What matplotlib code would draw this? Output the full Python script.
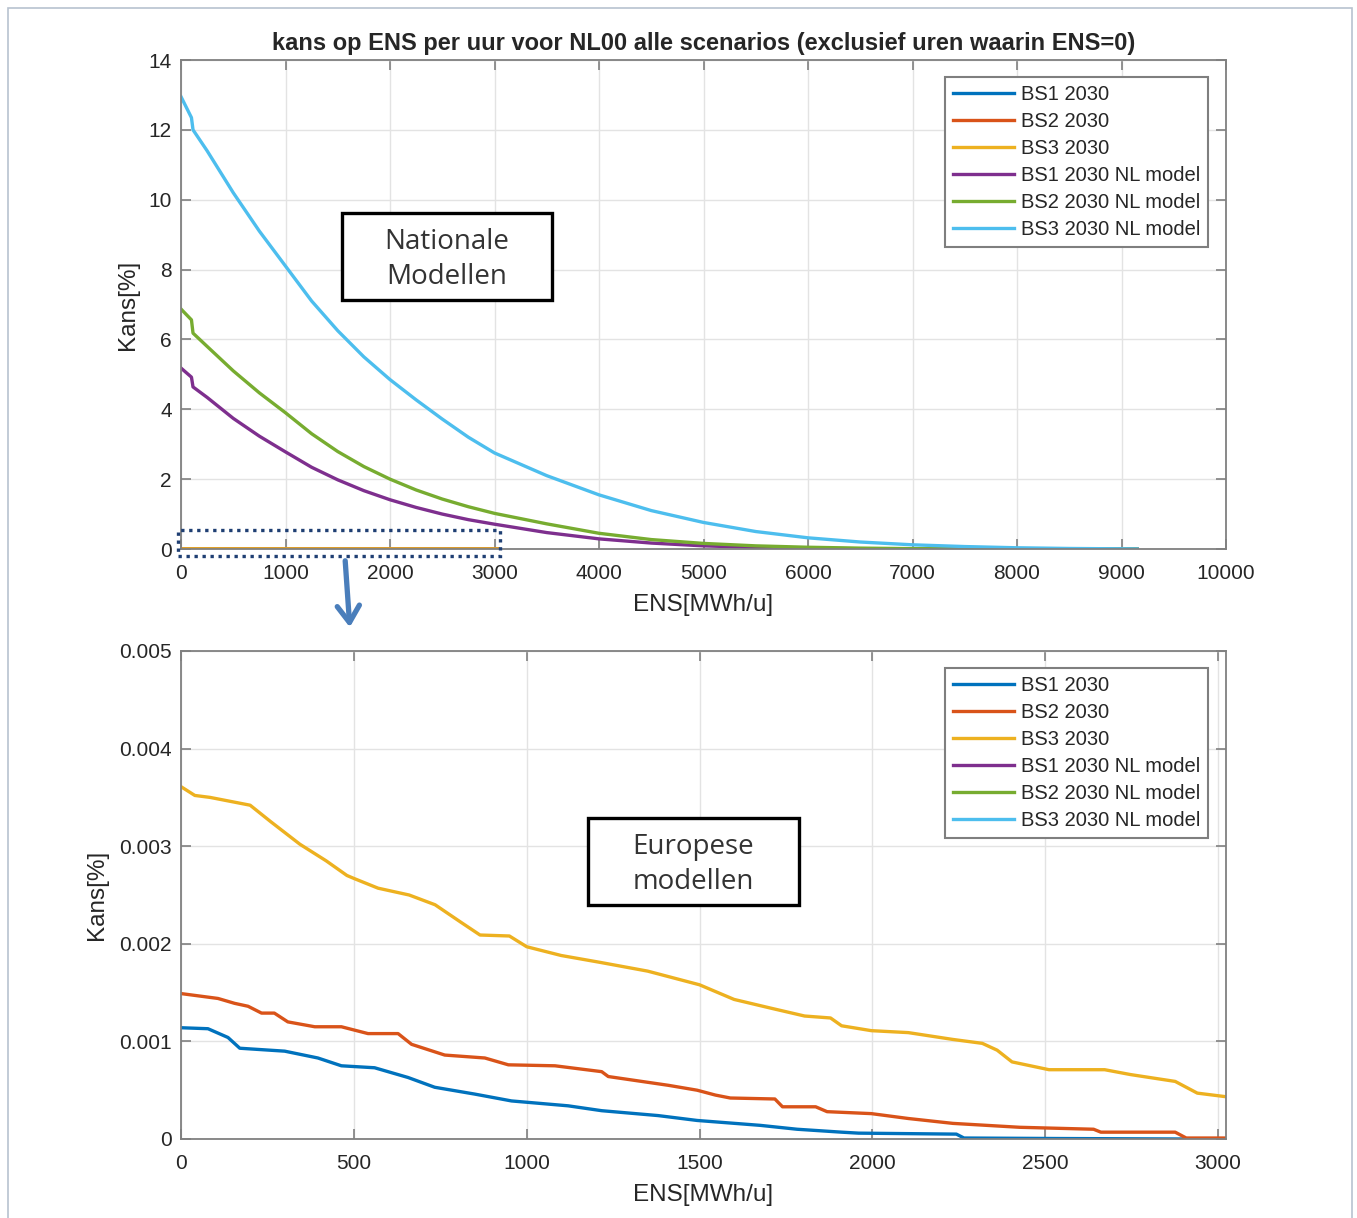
import matplotlib
matplotlib.use("Agg")
import matplotlib.pyplot as plt
from matplotlib.patches import Rectangle, FancyArrowPatch

# European models: hourly probability of ENS [%] against ENS [MWh/u]
ens_bs1 = [0, 78, 136, 170, 300, 396, 464, 560, 657, 734, 850, 956, 1120, 1217, 1380,
           1493, 1675, 1782, 1911, 1960, 2243, 2265, 2533, 2900, 3030]
kans_bs1 = [0.00114, 0.00113, 0.00104, 0.00093, 0.00090, 0.00083, 0.00075, 0.00073,
            0.00063, 0.00053, 0.00046, 0.00039, 0.00034, 0.00029, 0.00024, 0.00019,
            0.00014, 0.00010, 0.00007, 0.00006, 0.00005, 0.00001, 0.000005, 0.0, 0.0]

ens_bs2 = [0, 107, 155, 194, 233, 270, 309, 387, 464, 541, 628, 667, 763, 879, 947,
           1082, 1217, 1236, 1410, 1493, 1546, 1589, 1718, 1740, 1836, 1869, 1997,
           2104, 2233, 2426, 2640, 2661, 2876, 2908, 3030]
kans_bs2 = [0.00149, 0.00144, 0.00139, 0.00136, 0.00129, 0.00129, 0.00120, 0.00115,
            0.00115, 0.00108, 0.00108, 0.00097, 0.00086, 0.00083, 0.00076, 0.00075,
            0.00069, 0.00064, 0.00055, 0.00050, 0.00045, 0.00042, 0.00041, 0.00033,
            0.00033, 0.00028, 0.00026, 0.00021, 0.00016, 0.00012, 0.00010, 0.00007,
            0.00007, 0.00001, 0.00001]

ens_bs3 = [0, 40, 84, 200, 260, 344, 420, 480, 500, 570, 660, 735, 810, 865, 950,
           1000, 1100, 1212, 1350, 1500, 1600, 1707, 1804, 1879, 1911, 1997, 2104,
           2233, 2318, 2361, 2404, 2511, 2672, 2747, 2876, 2940, 3030]
kans_bs3 = [0.00361, 0.00352, 0.00350, 0.00342, 0.00325, 0.00302, 0.00285, 0.00270,
            0.00267, 0.00257, 0.00250, 0.00240, 0.00222, 0.00209, 0.00208, 0.00197,
            0.00188, 0.00181, 0.00172, 0.00158, 0.00143, 0.00134, 0.00126, 0.00124,
            0.00116, 0.00111, 0.00109, 0.00102, 0.00098, 0.00091, 0.00079, 0.00071,
            0.00071, 0.00066, 0.00059, 0.00047, 0.00043]

# national models (NL model)
ens_nl = [0, 100, 115, 250, 500, 750, 1000, 1250, 1500, 1750, 2000, 2250, 2500, 2750,
          3000, 3500, 4000, 4500, 5000, 5500, 6000, 6500, 7000, 7500, 8000, 8500,
          9000, 9150]
kans_bs1_nl = [5.18, 4.92, 4.64, 4.34, 3.74, 3.23, 2.78, 2.34, 1.98, 1.67, 1.41, 1.19,
               1.00, 0.84, 0.71, 0.47, 0.29, 0.17, 0.09, 0.045, 0.02, 0.008, 0.002,
               0.0, 0.0, 0.0, 0.0, 0.0]
kans_bs2_nl = [6.87, 6.56, 6.18, 5.80, 5.10, 4.47, 3.90, 3.30, 2.79, 2.36, 2.00, 1.69,
               1.43, 1.21, 1.02, 0.72, 0.45, 0.27, 0.16, 0.09, 0.05, 0.025, 0.01,
               0.003, 0.0, 0.0, 0.0, 0.0]
kans_bs3_nl = [12.95, 12.35, 12.00, 11.40, 10.20, 9.10, 8.10, 7.10, 6.25, 5.50, 4.85,
               4.27, 3.72, 3.20, 2.75, 2.10, 1.55, 1.10, 0.76, 0.50, 0.32, 0.20, 0.12,
               0.07, 0.035, 0.015, 0.005, 0.0]

labels = ["BS1 2030", "BS2 2030", "BS3 2030",
          "BS1 2030 NL model", "BS2 2030 NL model", "BS3 2030 NL model"]
colors = ["#0072BD", "#D95319", "#EDB120", "#7E2F8E", "#77AC30", "#4DBEEE"]

plt.rcParams["font.family"] = ["Liberation Sans", "DejaVu Sans"]
TXT = "#262626"
SPINE = "#808080"

W, H = 1357, 1218
fig = plt.figure(figsize=(W / 100, H / 100), dpi=100)


def px_box(x0, y0, x1, y1):
    # pixel box (top-left origin) -> figure fraction rect
    return [x0 / W, 1 - y1 / H, (x1 - x0) / W, (y1 - y0) / H]


ax1 = fig.add_axes(px_box(181, 60, 1226, 549))
ax2 = fig.add_axes(px_box(181, 651, 1226, 1139))

series = [(ens_bs1, kans_bs1), (ens_bs2, kans_bs2), (ens_bs3, kans_bs3),
          (ens_nl, kans_bs1_nl), (ens_nl, kans_bs2_nl), (ens_nl, kans_bs3_nl)]

for ax in (ax1, ax2):
    for (x, y), c, lab in zip(series, colors, labels):
        ax.plot(x, y, color=c, lw=2.4, label=lab, solid_joinstyle="round")
    ax.grid(True, color="#e3e3e3", lw=1.0)
    ax.set_axisbelow(True)
    for s in ax.spines.values():
        s.set_color(SPINE)
        s.set_linewidth(1.3)
    ax.tick_params(direction="in", length=7, width=1.2, color=SPINE,
                   top=True, right=True, labelsize=15, labelcolor=TXT)
    ax.tick_params(axis="x", pad=11)
    ax.tick_params(axis="y", pad=6.5)
    ax.set_xlabel("ENS[MWh/u]", fontsize=17.5, color=TXT, labelpad=8)
    ax.set_ylabel("Kans[%]", fontsize=17.5, color=TXT)
    leg = ax.legend(loc="upper right", bbox_to_anchor=(1 - 18 / 1045, 1 - 17 / 489),
                    borderaxespad=0, fontsize=14.5, handlelength=3.0, handletextpad=0.35,
                    labelspacing=0.40, borderpad=0.4, fancybox=False, framealpha=1)
    leg.get_frame().set_edgecolor("#7f7f7f")
    leg.get_frame().set_linewidth(1.5)
    for t in leg.get_texts():
        t.set_color(TXT)

ax1.set_xlim(0, 10000)
ax1.set_ylim(0, 14)
ax1.set_xticks(range(0, 10001, 1000))
ax1.set_yticks(range(0, 15, 2))
ax1.set_title("kans op ENS per uur voor NL00 alle scenarios (exclusief uren waarin ENS=0)",
              fontsize=17, fontweight="bold", color=TXT, pad=7)
ax1.yaxis.set_label_coords(-0.04, 0.5)

ax2.set_xlim(0, 3023)
ax2.set_ylim(0, 0.005)
ax2.set_xticks(range(0, 3001, 500))
ax2.set_yticks([0, 0.001, 0.002, 0.003, 0.004, 0.005])
ax2.set_yticklabels(["0", "0.001", "0.002", "0.003", "0.004", "0.005"])
ax2.yaxis.set_label_coords(-0.07, 0.5)

# dotted zoom region on the upper plot
ax1.add_patch(Rectangle((-30, -0.2), 3080, 0.74, fill=False, ec="#1f3f73", lw=2.4,
                        ls=(0, (1, 1.4)), clip_on=False, zorder=5))

# arrow down to the zoomed plot
arrow = FancyArrowPatch((345 / W, 1 - 558 / H), (350 / W, 1 - 630 / H),
                        transform=fig.transFigure, arrowstyle="->,head_length=6,head_width=4",
                        color="#4a7ebb", lw=3.8, mutation_scale=2)
fig.add_artist(arrow)

# text boxes
for (x0, y0, x1, y1), txt in [((342, 213, 552, 300), "Nationale\nModellen"),
                              ((588, 818, 799, 905), "Europese\nmodellen")]:
    fig.add_artist(Rectangle(px_box(x0, y0, x1, y1)[:2], (x1 - x0) / W, (y1 - y0) / H,
                             transform=fig.transFigure, fill=True, fc="white",
                             ec="black", lw=2.4))
    fig.text((x0 + x1) / 2 / W, 1 - (y0 + y1 + 6) / 2 / H, txt, ha="center", va="center",
             fontsize=20, color="#333333", family=["Open Sans", "DejaVu Sans"],
             linespacing=1.35)

# outer frame
fig.add_artist(Rectangle((8 / W, -0.01), (1352 - 8) / W, 1 - 8 / H + 0.01,
                         transform=fig.transFigure, fill=False, ec="#b8c2cf", lw=1.2))

fig.savefig("out.png", dpi=100)
